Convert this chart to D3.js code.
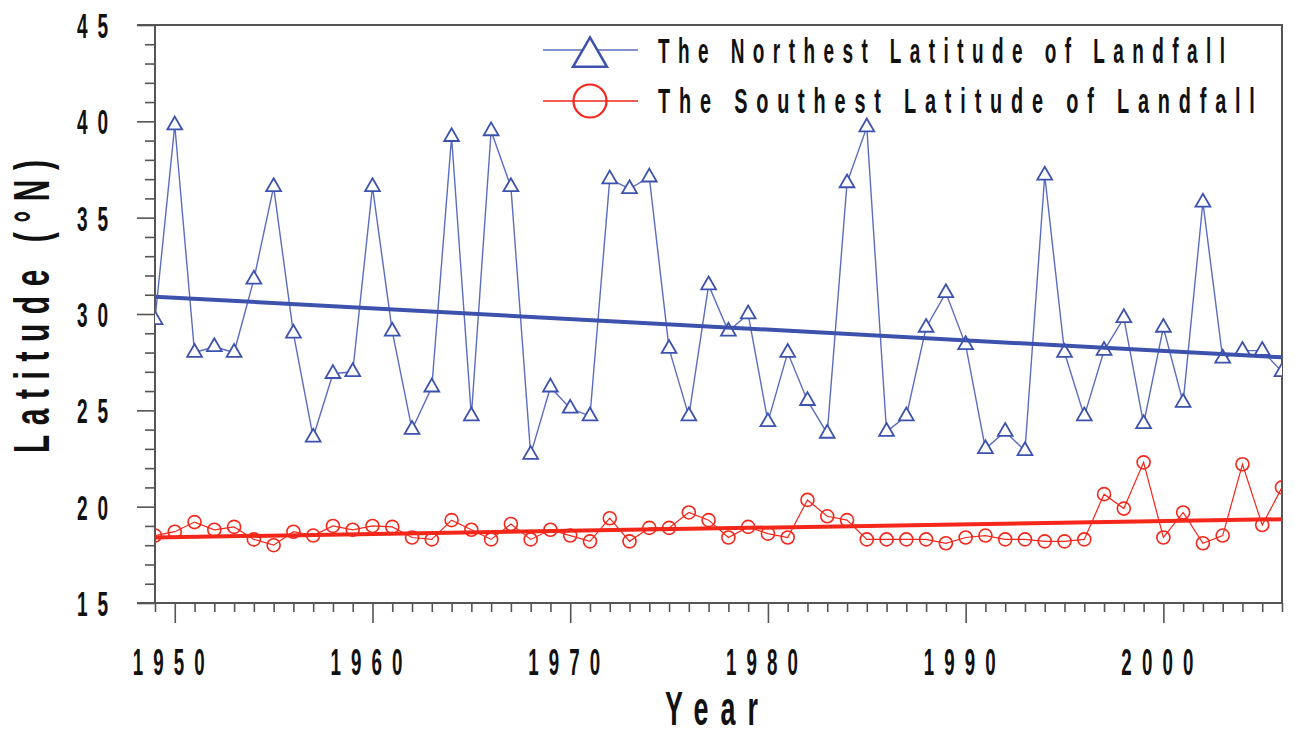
<!DOCTYPE html>
<html>
<head>
<meta charset="utf-8">
<script src="https://cdn.jsdelivr.net/npm/d3@7"></script>
<style>
  body { margin: 0; background: #fff; }
  text { font-family: "Liberation Sans Narrow", "Arial Narrow", "Liberation Sans", sans-serif; font-weight: bold; fill: #111; }
</style>
</head>
<body>
<div id="chart"></div>
<script>
// values
const years = d3.range(1949, 2007);
const northest = [29.7, 39.8, 28.0, 28.3, 28.0, 31.8, 36.6, 29.0, 23.6, 26.9,
  27.0, 36.6, 29.1, 24.0, 26.2, 39.2, 24.7, 39.5, 36.6, 22.7,
  26.2, 25.1, 24.7, 37.0, 36.5, 37.1, 28.2, 24.7, 31.5, 29.1,
  30.0, 24.4, 28.0, 25.5, 23.8, 36.8, 39.7, 23.9, 24.7, 29.3,
  31.1, 28.4, 23.0, 23.9, 22.9, 37.2, 28.0, 24.7, 28.1, 29.8,
  24.3, 29.3, 25.4, 35.8, 27.7, 28.1, 28.1, 27.0];
const southest = [18.5, 18.7, 19.2, 18.8, 18.95, 18.3, 18.0, 18.7, 18.5, 19.0,
  18.8, 19.0, 18.95, 18.4, 18.3, 19.3, 18.8, 18.3, 19.1, 18.3,
  18.8, 18.5, 18.2, 19.4, 18.2, 18.9, 18.9, 19.7, 19.3, 18.4,
  18.95, 18.6, 18.4, 20.35, 19.5, 19.3, 18.3, 18.3, 18.3, 18.3,
  18.1, 18.4, 18.5, 18.3, 18.3, 18.2, 18.2, 18.3, 20.65, 19.9,
  22.3, 18.4, 19.7, 18.1, 18.5, 22.2, 19.05, 21.0];
const trendYears = [1949, 2006];
const northTrend = [30.9, 27.75];
const southTrend = [18.4, 19.35];
const yTicks = [15, 20, 25, 30, 35, 40, 45];
const xTicks = [1950, 1960, 1970, 1980, 1990, 2000];
const legendLabels = ["The Northest Latitude of Landfall", "The Southest Latitude of Landfall"];

const width = 1295, height = 734;
const pLeft = 155, pRight = 1282, pTop = 25, pBottom = 603;
const blue = "#3d52ad", blueLine = "#5c6dbf", red = "#f5261a";

const svg = d3.select("#chart").append("svg")
  .attr("width", width)
  .attr("height", height);

const x = d3.scaleLinear().domain([1949, 2006]).range([pLeft, pRight]);
const y = d3.scaleLinear().domain([15, 45]).range([pBottom, pTop]);

// narrow, letter spaced text like the original: squeeze it to len px wide
function spaced(sel, str, px, py, len, size, spacing, rot) {
  const g = sel.append("g");
  const t = g.append("text")
    .attr("font-size", size)
    .style("letter-spacing", spacing + "px")
    .text(str);
  const w = t.node().getComputedTextLength() - spacing;
  g.attr("transform", `translate(${px},${py})` + (rot ? ` rotate(${rot})` : "") + ` scale(${len / w},1)`);
  return t;
}

svg.append("clipPath").attr("id", "plot")
  .append("rect").attr("x", pLeft).attr("y", pTop).attr("width", pRight - pLeft).attr("height", pBottom - pTop);

// axes
const yAxis = svg.append("g").attr("transform", `translate(${pLeft},0)`)
  .call(d3.axisLeft(y).ticks(30).tickSize(10).tickFormat(""));
yAxis.selectAll(".tick line").filter(d => d % 5 == 0).attr("x2", -18);
const xAxis = svg.append("g").attr("transform", `translate(0,${pBottom})`)
  .call(d3.axisBottom(x).ticks(57).tickSize(9).tickFormat(""));
xAxis.selectAll(".tick line").filter(d => d % 10 == 0).attr("y2", 20);
svg.selectAll(".domain").remove();
svg.selectAll(".tick line").attr("stroke", "#555").attr("stroke-width", 1.6);

svg.append("path")
  .attr("d", `M${pLeft - 18},${pTop}H${pRight}V${pBottom}H${pLeft - 18}M${pLeft},${pTop}V${pBottom}`)
  .attr("fill", "none").attr("stroke", "#555").attr("stroke-width", 2);

yTicks.forEach(v => spaced(svg, String(v), 77, y(v) + 13, 31, 35, 18));
xTicks.forEach(v => spaced(svg, String(v), x(v) - 42, 675, 72, 37, 20));

spaced(svg, "Year", 665, 725, 93, 49, 22);
spaced(svg, "Latitude (\u00b0N)", 49, 453, 293, 50, 16, -90);

// series
const plot = svg.append("g").attr("clip-path", "url(#plot)");
const line = d3.line().x(d => x(d[0])).y(d => y(d[1]));
const tri = d3.symbol().type(d3.symbolTriangle).size(95);

plot.append("path").datum(years.map((yr, i) => [yr, northest[i]]))
  .attr("d", line).attr("fill", "none").attr("stroke", blueLine).attr("stroke-width", 1.4);
plot.selectAll(".tri").data(years).enter().append("path")
  .attr("class", "tri")
  .attr("transform", (d, i) => `translate(${x(d)},${y(northest[i])})`)
  .attr("d", tri).attr("fill", "#fff").attr("stroke", blue).attr("stroke-width", 1.8);
plot.append("path").datum(trendYears.map((yr, i) => [yr, northTrend[i]]))
  .attr("d", line).attr("stroke", blue).attr("stroke-width", 4);

plot.append("path").datum(years.map((yr, i) => [yr, southest[i]]))
  .attr("d", line).attr("fill", "none").attr("stroke", red).attr("stroke-width", 1.2);
plot.selectAll(".circ").data(years).enter().append("circle")
  .attr("class", "circ")
  .attr("cx", d => x(d)).attr("cy", (d, i) => y(southest[i])).attr("r", 6.5)
  .attr("fill", "none").attr("stroke", red).attr("stroke-width", 1.6);
plot.append("path").datum(trendYears.map((yr, i) => [yr, southTrend[i]]))
  .attr("d", line).attr("stroke", red).attr("stroke-width", 4);

// legend
const legend = svg.append("g");
legend.append("line").attr("x1", 543).attr("x2", 638).attr("y1", 50).attr("y2", 50)
  .attr("stroke", blueLine).attr("stroke-width", 1.6);
legend.append("path").attr("transform", "translate(590,57)")
  .attr("d", d3.symbol().type(d3.symbolTriangle).size(500))
  .attr("fill", "#fff").attr("stroke", blue).attr("stroke-width", 2.5);
legend.append("line").attr("x1", 543).attr("x2", 638).attr("y1", 101).attr("y2", 101)
  .attr("stroke", red).attr("stroke-width", 1.6);
legend.append("circle").attr("cx", 590).attr("cy", 101).attr("r", 16.5)
  .attr("fill", "none").attr("stroke", red).attr("stroke-width", 2.2);
spaced(legend, legendLabels[0], 658, 63, 567, 36, 16);
spaced(legend, legendLabels[1], 658, 113, 597, 36, 16);
</script>
</body>
</html>
